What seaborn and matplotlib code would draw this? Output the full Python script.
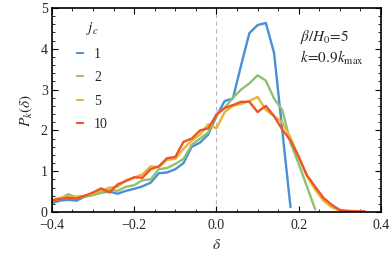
import numpy as np
import pandas as pd
import matplotlib
matplotlib.use('Agg')
import matplotlib.pyplot as plt
import seaborn as sns
from matplotlib.ticker import MultipleLocator, FuncFormatter

# density contrast grid (steps of 0.02)
delta_1 = [-0.40, -0.38, -0.36, -0.34, -0.32, -0.30, -0.28, -0.26, -0.24, -0.22,
           -0.20, -0.18, -0.16, -0.14, -0.12, -0.10, -0.08, -0.06, -0.04, -0.02,
           0.00, 0.02, 0.04, 0.06, 0.08, 0.10, 0.12, 0.14, 0.16, 0.18]
p_1 = [0.22, 0.28, 0.30, 0.28, 0.38, 0.42, 0.48, 0.50, 0.45, 0.52,
       0.57, 0.63, 0.72, 0.95, 0.97, 1.05, 1.20, 1.60, 1.70, 1.90,
       2.35, 2.72, 2.78, 3.60, 4.38, 4.58, 4.63, 3.90, 2.00, 0.12]

delta_2 = [-0.40, -0.38, -0.36, -0.34, -0.32, -0.30, -0.28, -0.26, -0.24, -0.22,
           -0.20, -0.18, -0.16, -0.14, -0.12, -0.10, -0.08, -0.06, -0.04, -0.02,
           0.00, 0.02, 0.04, 0.06, 0.08, 0.10, 0.12, 0.14, 0.16, 0.18,
           0.20, 0.22, 0.24]
p_2 = [0.28, 0.32, 0.44, 0.35, 0.38, 0.42, 0.47, 0.55, 0.52, 0.62,
       0.66, 0.78, 0.80, 1.05, 1.08, 1.18, 1.30, 1.65, 1.80, 1.95,
       2.40, 2.55, 2.80, 3.00, 3.15, 3.35, 3.22, 2.78, 2.50, 1.70,
       1.18, 0.62, 0.07]

delta_5 = [-0.40, -0.38, -0.36, -0.34, -0.32, -0.30, -0.28, -0.26, -0.24, -0.22,
           -0.20, -0.18, -0.16, -0.14, -0.12, -0.10, -0.08, -0.06, -0.04, -0.02,
           0.00, 0.02, 0.04, 0.06, 0.08, 0.10, 0.12, 0.14, 0.16, 0.18,
           0.20, 0.22, 0.24, 0.26, 0.28, 0.30]
p_5 = [0.30, 0.35, 0.37, 0.38, 0.40, 0.45, 0.52, 0.60, 0.62, 0.78,
       0.85, 0.92, 1.12, 1.10, 1.28, 1.30, 1.55, 1.75, 1.90, 2.15,
       2.05, 2.45, 2.60, 2.65, 2.72, 2.82, 2.50, 2.35, 2.20, 1.82,
       1.35, 0.88, 0.55, 0.28, 0.12, 0.03]

delta_10 = [-0.40, -0.38, -0.36, -0.34, -0.32, -0.30, -0.28, -0.26, -0.24, -0.22,
            -0.20, -0.18, -0.16, -0.14, -0.12, -0.10, -0.08, -0.06, -0.04, -0.02,
            0.00, 0.02, 0.04, 0.06, 0.08, 0.10, 0.12, 0.14, 0.16, 0.18,
            0.20, 0.22, 0.24, 0.26, 0.28, 0.30, 0.32, 0.34, 0.36]
p_10 = [0.28, 0.32, 0.35, 0.33, 0.40, 0.48, 0.58, 0.48, 0.68, 0.76,
        0.85, 0.84, 1.05, 1.12, 1.32, 1.35, 1.72, 1.80, 2.00, 2.05,
        2.38, 2.55, 2.62, 2.70, 2.70, 2.45, 2.60, 2.35, 2.02, 1.75,
        1.35, 0.90, 0.62, 0.35, 0.18, 0.05, 0.03, 0.02, 0.02]

jc_labels = ['1', '2', '5', '10']
colors = ['#4a8fd6', '#8cc26e', '#e2b739', '#ee5526']

df = pd.concat([
    pd.DataFrame({'delta': d, 'P': p, 'jc': lab})
    for d, p, lab in zip([delta_1, delta_2, delta_5, delta_10],
                         [p_1, p_2, p_5, p_10], jc_labels)
], ignore_index=True)

sns.set_style('ticks')
plt.rcParams['font.family'] = ['Liberation Serif', 'DejaVu Serif']
plt.rcParams['mathtext.fontset'] = 'stix'
plt.rcParams['font.size'] = 10

fig = plt.figure(figsize=(3.9, 2.54), dpi=100)
ax = fig.add_axes([0.133, 0.165, 0.844, 0.804])

ax.axvline(0, color='#bbbbbb', lw=0.8, ls=(0, (4, 3)), zorder=0)
sns.lineplot(data=df, x='delta', y='P', hue='jc', palette=colors, sort=False,
             lw=1.7, ax=ax)

ax.set_xlim(-0.4, 0.4)
ax.set_ylim(0, 5)
ax.xaxis.set_major_locator(MultipleLocator(0.2))
ax.xaxis.set_minor_locator(MultipleLocator(0.05))
ax.yaxis.set_major_locator(MultipleLocator(1))
ax.yaxis.set_minor_locator(MultipleLocator(0.2))
ax.xaxis.set_major_formatter(FuncFormatter(
    lambda v, pos: ('%.1f' % v).replace('-', '\u2212') if abs(v) > 1e-9 else '0.0'))
ax.tick_params(which='both', direction='in', top=True, right=True, color='black')
ax.tick_params(which='major', length=4, width=0.8, labelsize=10, pad=3)
ax.tick_params(axis='x', which='major', pad=5)
ax.tick_params(which='minor', length=2, width=0.6)
for s in ax.spines.values():
    s.set_color('black')
    s.set_linewidth(1.2)

ax.set_xlabel(r'$\delta$', fontsize=11, labelpad=4)
ax.set_ylabel(r'$P_k(\delta)$', fontsize=11, labelpad=4)

leg = ax.legend(title=r'$j_c$', frameon=False, handlelength=0.6,
                handletextpad=0.7, labelspacing=0.75, fontsize=10,
                loc='upper left', bbox_to_anchor=(0.035, 1.0))
leg.get_title().set_fontsize(11)
for h in leg.get_lines():
    h.set_linewidth(1.4)
    h.set_solid_capstyle('butt')

ax.text(0.755, 0.84, r'$\beta/H_0\!=\!5$', transform=ax.transAxes, fontsize=11)
ax.text(0.755, 0.73, r'$k\!=\!0.9k_{\rm max}$', transform=ax.transAxes, fontsize=11)

fig.savefig('out.png', dpi=100)
